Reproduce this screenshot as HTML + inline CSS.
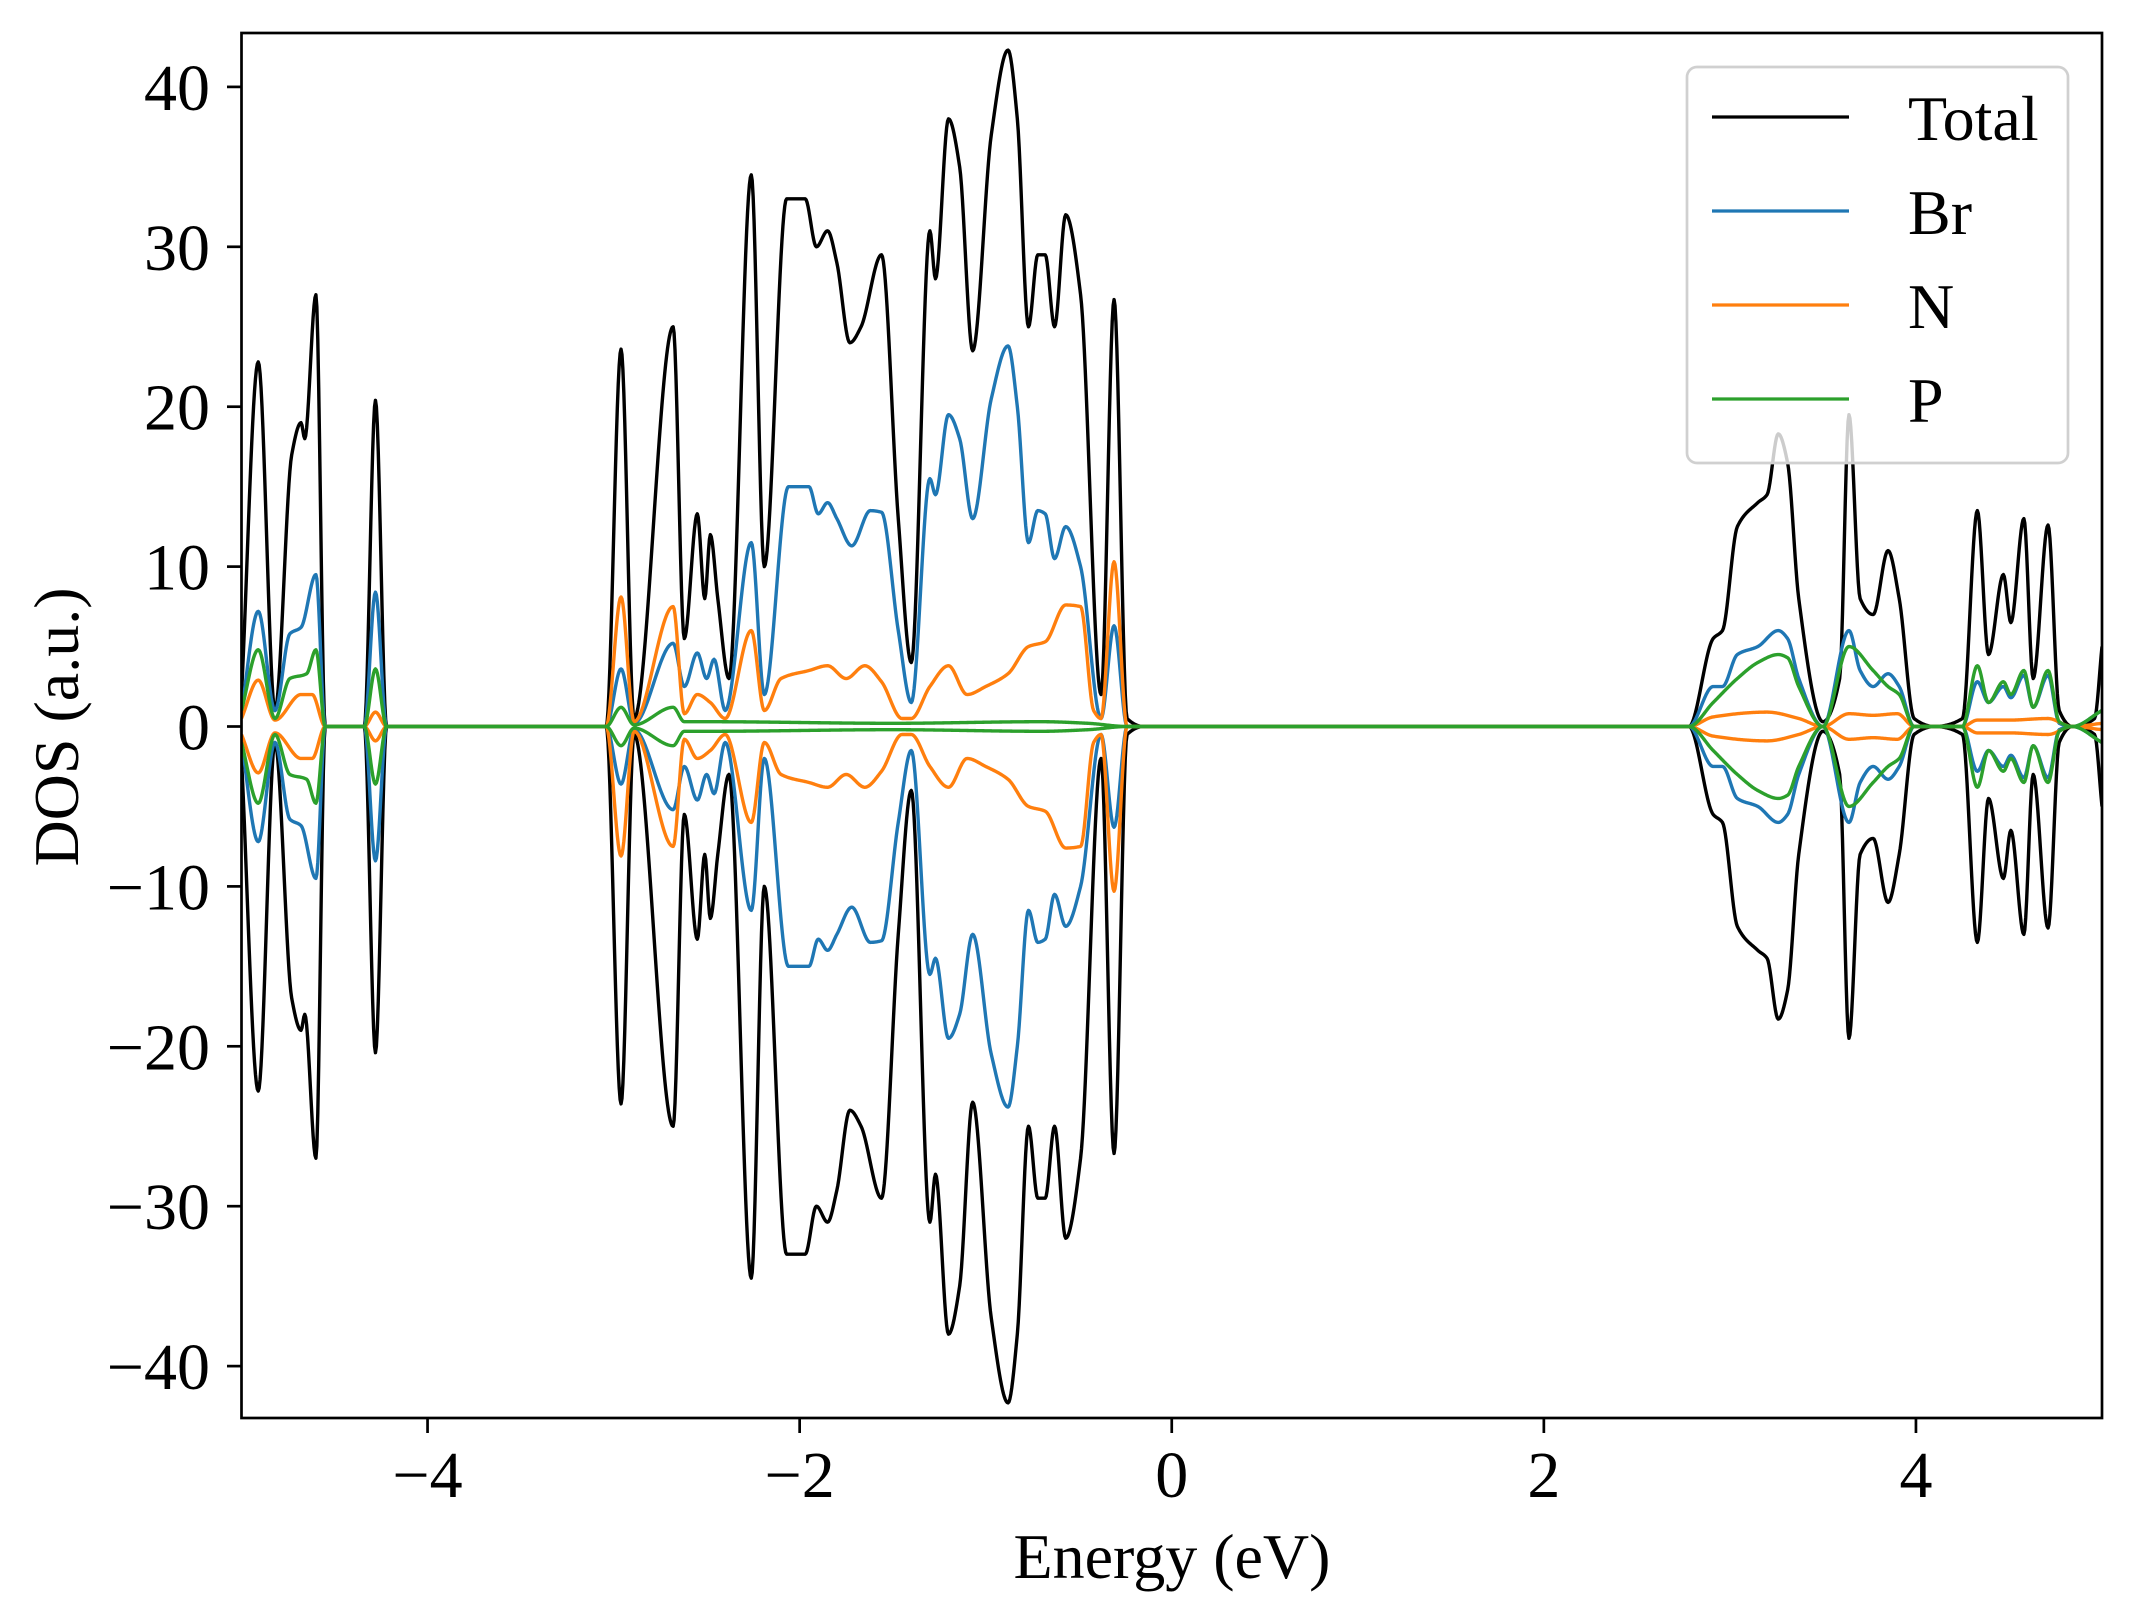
<!DOCTYPE html>
<html><head><meta charset="utf-8"><style>
html,body{margin:0;padding:0;background:#fff;}
svg{display:block;font-family:"Liberation Serif","DejaVu Serif",serif;}
</style></head><body>
<svg id="chart" width="2134" height="1617" viewBox="0 0 2134 1617" xmlns="http://www.w3.org/2000/svg">
<rect width="2134" height="1617" fill="#fff"/>
<defs><clipPath id="plotclip"><rect x="241.5" y="33" width="1860.5" height="1385"/></clipPath></defs>
<g id="series" clip-path="url(#plotclip)"></g>
<rect x="241.5" y="33" width="1860.5" height="1385" fill="none" stroke="#000" stroke-width="2.7"/>
<g id="xticks"></g>
<g id="yticks"></g>
<text x="1172" y="1578" font-size="64" text-anchor="middle">Energy (eV)</text>
<text transform="translate(78,727) rotate(-90)" font-size="64" text-anchor="middle">DOS (a.u.)</text>
<g id="legend">
<rect x="1687" y="67" width="381" height="396" rx="10" fill="#fff" fill-opacity="0.8" stroke="#d0d0d0" stroke-width="2.7"/>
<line x1="1712" y1="117" x2="1849" y2="117" stroke="#000" stroke-width="3.2"/>
<text x="1908" y="140" font-size="64">Total</text>
<line x1="1712" y1="211" x2="1849" y2="211" stroke="#1f77b4" stroke-width="3.2"/>
<text x="1908" y="234" font-size="64">Br</text>
<line x1="1712" y1="305" x2="1849" y2="305" stroke="#ff7f0e" stroke-width="3.2"/>
<text x="1908" y="328" font-size="64">N</text>
<line x1="1712" y1="399" x2="1849" y2="399" stroke="#2ca02c" stroke-width="3.2"/>
<text x="1908" y="422" font-size="64">P</text>
</g>
</svg>
<script>
const xTicks = [-4, -2, 0, 2, 4];
const xTickLabels = ["\u22124", "\u22122", "0", "2", "4"];
const yTicks = [-40, -30, -20, -10, 0, 10, 20, 30, 40];
const yTickLabels = ["\u221240", "\u221230", "\u221220", "\u221210", "0", "10", "20", "30", "40"];

const totalE = [-5.0,-4.91,-4.82,-4.73,-4.68,-4.66,-4.60,-4.55,-4.34,-4.28,-4.22,-3.04,-2.96,-2.89,-2.68,-2.62,-2.55,-2.51,-2.48,-2.44,-2.38,-2.26,-2.19,-2.07,-2.02,-1.97,-1.91,-1.85,-1.80,-1.73,-1.67,-1.56,-1.47,-1.40,-1.30,-1.27,-1.20,-1.14,-1.07,-0.97,-0.88,-0.83,-0.77,-0.72,-0.68,-0.63,-0.57,-0.49,-0.38,-0.31,-0.24,-0.15,2.78,2.91,2.96,3.04,3.15,3.20,3.26,3.31,3.37,3.50,3.59,3.64,3.70,3.77,3.85,3.91,3.99,4.10,4.25,4.33,4.39,4.47,4.51,4.58,4.63,4.71,4.77,4.84,4.96,5.0];
const totalV = [2,22.8,1,17,19,18,27,0,0,20.4,0,0,23.6,0.5,25,5.5,13.3,8,12,8,3,34.5,10,33,33,33,30,31,29,24,25,29.5,13,4,31,28,38,35,23.5,37,42.3,38,25,29.5,29.5,25,32,27,2,26.7,0.5,0,0,5.5,6,12.5,14,14.5,18.3,16.5,8,0.3,3,19.5,8,7,11,8,0.5,0,0.5,13.5,4.5,9.5,6.5,13,3,12.6,1,0,0.5,5];

const brE = [-5.0,-4.91,-4.82,-4.74,-4.68,-4.60,-4.55,-4.34,-4.28,-4.22,-3.04,-2.96,-2.89,-2.68,-2.62,-2.55,-2.50,-2.46,-2.40,-2.26,-2.19,-2.06,-1.95,-1.90,-1.85,-1.80,-1.72,-1.62,-1.56,-1.47,-1.40,-1.30,-1.27,-1.20,-1.14,-1.07,-0.97,-0.88,-0.83,-0.77,-0.72,-0.68,-0.63,-0.57,-0.49,-0.38,-0.31,-0.24,2.78,2.91,2.96,3.04,3.15,3.26,3.31,3.37,3.50,3.64,3.70,3.77,3.85,3.91,3.99,4.25,4.33,4.39,4.47,4.51,4.58,4.63,4.71,4.77,4.84,5.0];
const brV = [1,7.2,1,5.8,6.2,9.5,0,0,8.4,0,0,3.6,0.2,5.2,2.5,4.6,3,4.2,1,11.5,2,15,15,13.3,14,13,11.3,13.5,13.4,6,1.5,15.5,14.5,19.5,18,13,20.5,23.8,20,11.5,13.5,13.3,10.5,12.5,10,0.5,6.3,0,0,2.5,2.5,4.5,5,6,5.5,3,0,6,3.5,2.5,3.3,2.5,0,0,2.8,1.5,2.5,1.8,3.2,1.2,3.2,0.2,0,1];

const nE = [-5.0,-4.91,-4.82,-4.68,-4.62,-4.55,-4.34,-4.28,-4.22,-3.04,-2.96,-2.89,-2.68,-2.62,-2.55,-2.48,-2.40,-2.26,-2.19,-2.10,-1.95,-1.85,-1.75,-1.65,-1.56,-1.45,-1.40,-1.30,-1.20,-1.10,-1.00,-0.88,-0.77,-0.68,-0.57,-0.49,-0.42,-0.38,-0.31,-0.24,2.78,2.91,3.20,3.37,3.50,3.64,3.77,3.90,3.99,4.25,4.33,4.50,4.71,4.84,5.0];
const nV = [0.5,2.9,0.4,2,2,0,0,0.9,0,0,8.1,0.3,7.5,0.8,2,1.5,0.5,6,1,3,3.5,3.8,3,3.8,2.8,0.5,0.5,2.5,3.8,2,2.5,3.3,5,5.3,7.6,7.5,1,0.5,10.3,0,0,0.6,0.9,0.5,0,0.8,0.7,0.8,0,0,0.4,0.4,0.5,0,0.2];

const pE = [-5.0,-4.91,-4.82,-4.74,-4.65,-4.60,-4.55,-4.34,-4.28,-4.22,-3.04,-2.96,-2.89,-2.68,-2.62,-2.50,-1.50,-0.70,-0.45,-0.24,2.78,2.91,3.04,3.15,3.26,3.31,3.37,3.50,3.64,3.77,3.85,3.91,3.99,4.25,4.33,4.39,4.47,4.51,4.58,4.63,4.71,4.77,4.84,5.0];
const pV = [1,4.8,0.5,3,3.3,4.8,0,0,3.6,0,0,1.2,0.1,1.2,0.3,0.3,0.2,0.3,0.2,0,0,1.5,3,4,4.5,4.3,2.5,0,5,3.5,2.5,2,0,0,3.8,1.5,2.8,2,3.5,1.2,3.5,0.3,0,1];

const X0 = 241.5, X1 = 2102, XMIN = -5, XMAX = 5;
const Y0 = 726.5, YPX = 15.99;
function xScale(v){ return X0 + (v - XMIN) / (XMAX - XMIN) * (X1 - X0); }
function yScale(v){ return Y0 - v * YPX; }

function monotone(xs, ys){
  const n = xs.length, d = [], m = new Array(n);
  for (let i = 0; i < n - 1; i++) d.push((ys[i+1]-ys[i])/(xs[i+1]-xs[i]));
  m[0] = d[0]; m[n-1] = d[n-2];
  for (let i = 1; i < n - 1; i++) {
    if (d[i-1]*d[i] <= 0) m[i] = 0;
    else { const h0 = xs[i]-xs[i-1], h1 = xs[i+1]-xs[i];
      m[i] = 3*(h0+h1)/((2*h1+h0)/d[i-1] + (h1+2*h0)/d[i]); }
  }
  return function(x){
    let i = 0; while (i < n - 2 && x > xs[i+1]) i++;
    const h = xs[i+1]-xs[i], t = Math.min(1, Math.max(0, (x-xs[i])/h));
    const t2 = t*t, t3 = t2*t;
    return (2*t3-3*t2+1)*ys[i] + (t3-2*t2+t)*h*m[i] + (-2*t3+3*t2)*ys[i+1] + (t3-t2)*h*m[i+1];
  };
}

const NS = "http://www.w3.org/2000/svg";
const layer = document.getElementById("series");
function drawSeries(xs, ys, color, name){
  const f = monotone(xs, ys);
  ["up","down"].forEach(function(spin){
    const sign = spin === "up" ? 1 : -1;
    let d = "";
    for (let k = 0; k <= 2000; k++) {
      const e = XMIN + (XMAX - XMIN) * k / 2000;
      d += (k ? "L" : "M") + xScale(e).toFixed(2) + " " + yScale(sign * f(e)).toFixed(2);
    }
    const p = document.createElementNS(NS, "path");
    p.setAttribute("d", d);
    p.setAttribute("fill", "none");
    p.setAttribute("stroke", color);
    p.setAttribute("stroke-width", "3.4");
    p.setAttribute("stroke-linejoin", "round");
    
    
    layer.appendChild(p);
  });
}
drawSeries(totalE, totalV, "#000000", "total-line");
drawSeries(brE, brV, "#1f77b4", "br-line");
drawSeries(nE, nV, "#ff7f0e", "n-line");
drawSeries(pE, pV, "#2ca02c", "p-line");

const xg = document.getElementById("xticks");
xTicks.forEach(function(v, i){
  const x = xScale(v);
  const l = document.createElementNS(NS, "line");
  l.setAttribute("x1", x); l.setAttribute("x2", x);
  l.setAttribute("y1", 1418); l.setAttribute("y2", 1433);
  l.setAttribute("stroke", "#000"); l.setAttribute("stroke-width", "2.7");
  
  
  xg.appendChild(l);
  const t = document.createElementNS(NS, "text");
  t.setAttribute("x", x); t.setAttribute("y", 1497);
  t.setAttribute("font-size", "66"); t.setAttribute("text-anchor", "middle");
  t.textContent = xTickLabels[i];
  
  
  xg.appendChild(t);
});
const yg = document.getElementById("yticks");
yTicks.forEach(function(v, i){
  const y = yScale(v);
  const l = document.createElementNS(NS, "line");
  l.setAttribute("x1", 227); l.setAttribute("x2", 241.5);
  l.setAttribute("y1", y); l.setAttribute("y2", y);
  l.setAttribute("stroke", "#000"); l.setAttribute("stroke-width", "2.7");
  
  
  yg.appendChild(l);
  const t = document.createElementNS(NS, "text");
  t.setAttribute("x", 210); t.setAttribute("y", y + 23);
  t.setAttribute("font-size", "66"); t.setAttribute("text-anchor", "end");
  t.textContent = yTickLabels[i];
  
  
  yg.appendChild(t);
});
</script>
</body></html>
